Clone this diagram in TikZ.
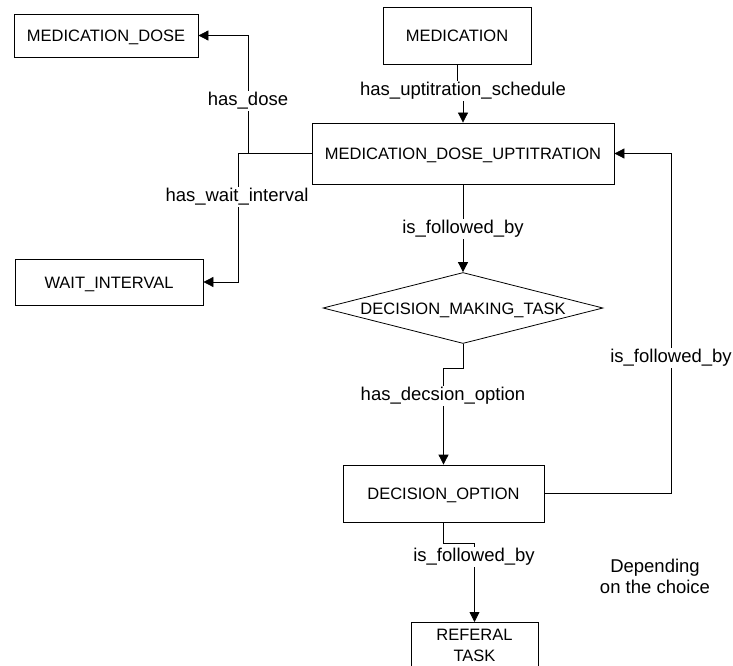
\documentclass[tikz,border=0pt]{standalone}
\usepackage{fontspec}
\setmainfont{Liberation Sans}
\usetikzlibrary{arrows.meta, shapes.geometric, positioning}

\begin{document}
\begin{tikzpicture}[x=1pt, y=-1pt,
    box/.style={draw, line width=0.8pt, inner sep=0pt, font=\fontsize{16.5}{21}\selectfont},
    flat/.style={text height=12pt, text depth=0pt},
    rel/.style={fill=white, inner sep=1.5pt, font=\fontsize{18.5}{22}\selectfont},
    link/.style={line width=0.8pt, -{Triangle[length=10pt,width=10pt]}}]
  \useasboundingbox (0,0) rectangle (733,666);

  % entities
  \node[box, flat, minimum width=184pt, minimum height=43pt] (md) at (106,35.5) {MEDICATION\_DOSE};
  \node[box, flat, minimum width=148pt, minimum height=57pt] (med) at (457,35.5) {MEDICATION};
  \node[box, flat, minimum width=302pt, minimum height=61pt] (mdu) at (463,153.5) {MEDICATION\_DOSE\_UPTITRATION};
  \node[box, flat, minimum width=188pt, minimum height=46pt] (wi) at (109,282) {WAIT\_INTERVAL};
  \node[box, flat, diamond, aspect=3.9, minimum width=280pt, minimum height=71pt] (dmt) at (463,308) {DECISION\_MAKING\_TASK};
  \node[box, flat, minimum width=201pt, minimum height=57pt] (do) at (443.5,493.5) {DECISION\_OPTION};
  \node[box, minimum width=127pt, minimum height=46pt, align=center, anchor=north] (rt) at (474.5,622) {REFERAL\\TASK};

  % bends
  \coordinate (jd) at (248,153.5);
  \coordinate (jw) at (238,153.5);
  \coordinate (jr) at (671,493.5);

  % relations
  \draw[link] (mdu.west) -- (jd) |- (md.east);
  \draw[link] (jd) -- (jw) |- (wi.east);
  \draw[link] (med.south) -- ++(0,28) -| (mdu.north);
  \draw[link] (mdu.south) -- (dmt.north);
  \draw[link] (dmt.south) -- ++(0,24) -| (do.north);
  \draw[link] (do.east) -- (jr) |- (mdu.east);
  \draw[link] (do.south) -- ++(0,21) -| (rt.north);

  % labels
  \node[rel] (l1) at (463,91) {has\_uptitration\_schedule};
  \node[rel] (l2) at (248,101) {has\_dose};
  \node[rel] (l3) at (237,197) {has\_wait\_interval};
  \node[rel] (l4) at (463,229) {is\_followed\_by};
  \node[rel] (l5) at (443,396) {has\_decsion\_option};
  \node[rel] (l6) at (671,358) {is\_followed\_by};
  \node[rel] (l7) at (474,557) {is\_followed\_by};
  \node[font=\fontsize{18.5}{21}\selectfont, align=center] (note) at (655,576) {Depending\\on the choice};
\end{tikzpicture}
\end{document}
